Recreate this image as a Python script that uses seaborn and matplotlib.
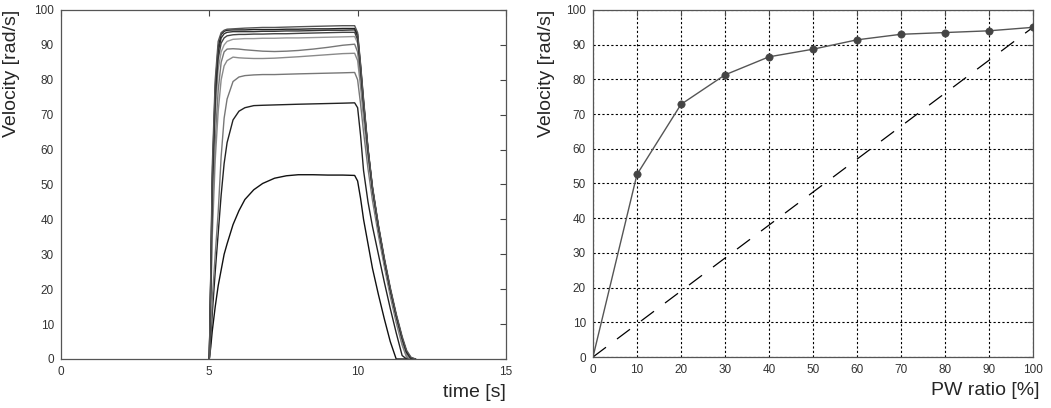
import matplotlib
matplotlib.use('Agg')
import matplotlib.pyplot as plt
import seaborn as sns
import pandas as pd

# time grid shared by all step-response curves (s)
t = [5.0, 5.05, 5.1, 5.2, 5.3, 5.4, 5.5, 5.6, 5.8, 6.0, 6.2, 6.5, 6.8, 7.2, 7.6, 8.0, 8.5,
     9.0, 9.5, 9.9, 10.0, 10.1, 10.2, 10.35, 10.5, 10.7, 10.9, 11.1, 11.3, 11.5, 11.65, 11.8, 11.95]

# velocity responses for PW 10% ... 100% (rad/s)
v10 = [0, 3.5, 8, 15, 21, 25.5, 30, 33, 38.5, 42.5, 45.7, 48.5, 50.3, 51.8, 52.5, 52.8, 52.8,
       52.7, 52.7, 52.6, 51, 46, 40, 33, 26, 18.5, 11.5, 5, 0, 0, 0, 0, 0]
v20 = [0, 6, 13, 25, 36, 47, 56, 62, 68.5, 71, 72, 72.6, 72.7, 72.8, 72.9, 73.0, 73.1,
       73.2, 73.3, 73.4, 72, 64, 54, 45, 38, 30, 22, 14.5, 7.5, 1, 0, 0, 0]
v30 = [0, 8, 17, 30, 42, 58, 69, 74.5, 79.5, 80.8, 81.2, 81.4, 81.5, 81.5, 81.6, 81.7, 81.8,
       81.9, 82.0, 82.1, 80, 73, 65, 54.5, 45.5, 35.5, 26.5, 18, 10.5, 4, 0.5, 0, 0]
v40 = [0, 15, 35, 57, 71, 80, 84, 85.5, 86.5, 86.3, 86.2, 86.1, 86.1, 86.2, 86.4, 86.6, 86.9,
       87.2, 87.5, 87.6, 85.5, 78, 69, 57.5, 47.5, 37, 27.5, 19, 11, 4.5, 1, 0, 0]
v50 = [0, 18, 40, 63, 77, 85, 88, 88.8, 88.9, 88.8, 88.6, 88.4, 88.2, 88.1, 88.2, 88.4, 88.8,
       89.3, 89.9, 90.2, 88, 80.5, 71, 59, 48.5, 37.5, 28, 19.5, 12, 5, 1.5, 0, 0]
v60 = [0, 20, 45, 70, 83, 88, 90, 91, 91.6, 91.7, 91.8, 91.8, 91.9, 91.9, 92.0, 92.0, 92.1,
       92.2, 92.3, 92.4, 90.5, 82.5, 72.5, 59.5, 48.5, 37.5, 28, 19.5, 12, 5.5, 1.8, 0, 0]
v70 = [0, 22, 48, 74, 86, 90.5, 92, 92.6, 92.9, 93.0, 93.0, 93.1, 93.1, 93.2, 93.2, 93.3, 93.4,
       93.5, 93.6, 93.6, 91.5, 83, 73, 60, 49, 38, 28.5, 20, 12.5, 6, 2, 0, 0]
v80 = [0, 23, 50, 76, 88, 92, 93.2, 93.6, 93.8, 93.8, 93.8, 93.8, 93.9, 93.9, 94.0, 94.0, 94.1,
       94.2, 94.2, 94.3, 92.5, 83.5, 73.5, 60, 49, 38, 28.5, 20, 12.5, 6, 2, 0, 0]
v90 = [0, 24, 52, 78, 89.5, 93, 93.9, 94.2, 94.3, 94.3, 94.3, 94.4, 94.4, 94.4, 94.5, 94.5, 94.6,
       94.6, 94.7, 94.7, 93, 84, 74, 60, 49, 38, 28.5, 20, 12.5, 6, 2, 0.3, 0]
v100 = [0, 25, 55, 80, 91, 93.5, 94.2, 94.5, 94.6, 94.7, 94.8, 94.9, 95.0, 95.0, 95.1, 95.2, 95.3,
        95.4, 95.5, 95.5, 93.5, 84.5, 74.5, 60.5, 49.5, 38.5, 29, 20.5, 13, 6.5, 2.5, 0.5, 0]

curves = [v10, v20, v30, v40, v50, v60, v70, v80, v90, v100]
curve_colors = ['#111111', '#222222', '#777777', '#8a8a8a', '#777777',
                '#999999', '#444444', '#333333', '#222222', '#555555']

# steady-state velocity vs pulse-width ratio
pw = [0, 10, 20, 30, 40, 50, 60, 70, 80, 90, 100]
vel = [0, 52.6, 72.8, 81.3, 86.5, 88.7, 91.4, 93.0, 93.5, 94.0, 95.0]
lin_pw = [0, 100]
lin_vel = [0, 95]

sns.set_style('white')
plt.rcParams['font.family'] = ['Liberation Sans', 'DejaVu Sans']

fig = plt.figure(figsize=(10.51, 4.08), dpi=100)
ax1 = fig.add_axes([0.0580, 0.1201, 0.4234, 0.8554])
ax2 = fig.add_axes([0.5642, 0.1250, 0.4186, 0.8505])

#Left plot: step responses
for v, c in zip(curves, curve_colors):
    sns.lineplot(x=t, y=v, ax=ax1, color=c, linewidth=1.0, estimator=None, sort=False)

ax1.set_xlim(0, 15)
ax1.set_ylim(0, 100)
ax1.set_xticks([0, 5, 10, 15])
ax1.set_yticks(range(0, 101, 10))

#Right plot: velocity vs PW ratio
df = pd.DataFrame({'pw': pw, 'vel': vel})
ax2.grid(True, color='black', linestyle=(0, (2, 2)), linewidth=0.8)
ax2.set_axisbelow(True)
sns.lineplot(x=lin_pw, y=lin_vel, ax=ax2, color='black', linewidth=0.9,
             dashes=False, estimator=None)
ax2.lines[-1].set_dashes((13, 11))
sns.lineplot(data=df, x='pw', y='vel', ax=ax2, color='#555555', linewidth=1.0, estimator=None)
sns.scatterplot(data=df.iloc[1:], x='pw', y='vel', ax=ax2, color='#444444', s=28,
                edgecolor='#444444', zorder=5)

ax2.set_xlim(0, 100)
ax2.set_ylim(0, 100)
ax2.set_xticks(range(0, 101, 10))
ax2.set_yticks(range(0, 101, 10))

for ax in (ax1, ax2):
    ax.tick_params(direction='in', top=True, right=True, length=4, width=0.8,
                   labelsize=8.5, labelcolor='#333333', color='#444444', pad=5)
    for s in ax.spines.values():
        s.set_visible(True)
        s.set_color('#555555')
        s.set_linewidth(0.9)
    ax.set_ylabel('Velocity [rad/s]', fontsize=14, loc='top')

ax1.set_xlabel('time [s]', fontsize=14, loc='right')
ax2.set_xlabel('PW ratio [%]', fontsize=14, loc='right')
ax1.xaxis.set_label_coords(1.0, -0.072)
ax2.xaxis.set_label_coords(1.016, -0.072)
ax1.yaxis.set_label_coords(-0.092, 1.0)
ax2.yaxis.set_label_coords(-0.086, 1.0)

plt.savefig('out.png', dpi=100)
